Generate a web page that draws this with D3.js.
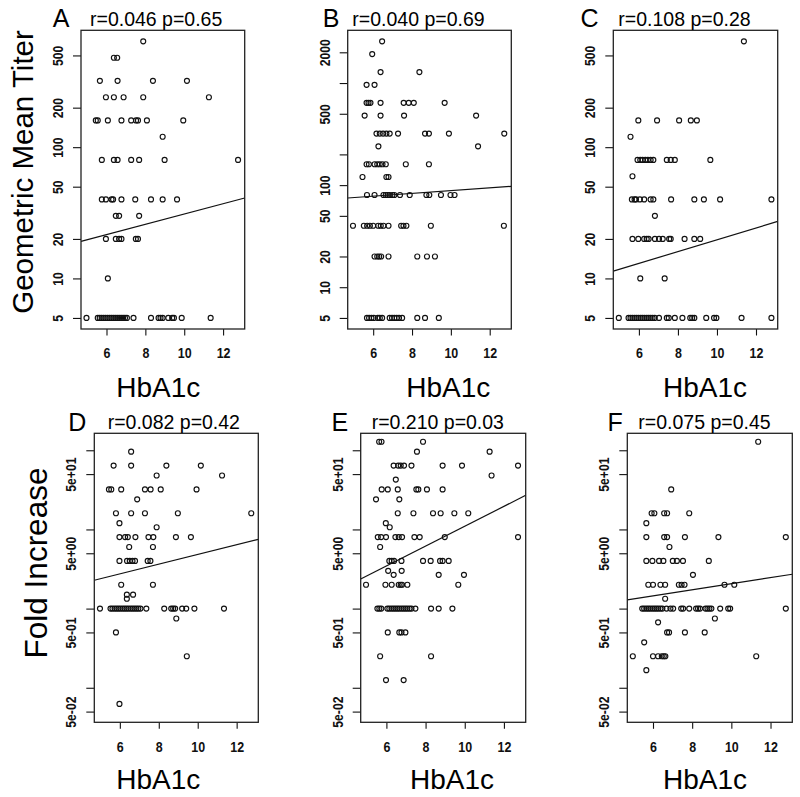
<!DOCTYPE html>
<html><head><meta charset="utf-8">
<script src="https://cdn.jsdelivr.net/npm/d3@7"></script>
<style>body{margin:0;background:#fff}svg{display:block}</style>
</head><body>
<script>
// ---------- DATA (HbA1c values grouped by y level) ----------
const xLim = [5.0, 12.8];
const xTicks = [6, 8, 10, 12];

const gmtTicksAC = [5, 10, 20, 50, 100, 200, 500];
const gmtLabelsAC = ["5", "10", "20", "50", "100", "200", "500"];
const gmtTicksB = [5, 10, 20, 50, 100, 200, 500, 1000, 2000];
const gmtLabelsB = ["5", "10", "20", "50", "100", "", "500", "", "2000"];
const foldTicks = [0.05, 0.1, 0.5, 1, 5, 10, 50, 100];
const foldLabels = ["5e-02", "", "5e-01", "", "5e+00", "", "5e+01", ""];

const yLimA = [5, 640], yLimB = [5, 2560], yLimC = [5, 640], yLimFold = [0.05, 120];

const gmtA = [
  [640, [7.89]],
  [480, [6.38, 6.55]],
  [320, [5.66, 6.57, 8.39, 10.14]],
  [240, [5.97, 6.38, 6.88, 7.89, 11.27]],
  [160, [5.45, 5.55, 6.07, 6.77, 7.27, 7.52, 7.62, 8.08, 9.95]],
  [120, [8.89]],
  [80, [5.76, 6.38, 6.57, 7.27, 7.68, 8.99, 12.77]],
  [40, [5.76, 5.97, 6.26, 6.34, 6.77, 7.48, 8.29, 8.89, 9.63]],
  [30, [6.48, 6.65, 7.68]],
  [20, [5.97, 6.48, 6.65, 6.77, 7.51, 7.62]],
  [10, [6.07]],
  [5, [4.97, 5.55, 5.65, 5.75, 5.85, 5.95, 6.05, 6.15, 6.25, 6.35, 6.45, 6.55, 6.65, 6.75, 6.85, 6.95, 7.05, 7.39, 8.29, 8.68, 8.78, 8.89, 9.18, 9.38, 9.47, 9.87, 11.36]]
];
const gmtB = [
  [2560, [6.46]],
  [1920, [5.95]],
  [1280, [6.38, 8.38]],
  [960, [5.66, 6.07]],
  [640, [5.66, 5.76, 5.86, 6.38, 7.57, 7.83, 8.09, 9.68]],
  [480, [5.56, 6.38, 7.59, 11.3]],
  [320, [6.17, 6.34, 6.51, 6.68, 6.85, 7.28, 8.67, 8.87, 9.9, 12.75]],
  [240, [6.27, 11.4]],
  [160, [5.66, 5.78, 6.07, 6.21, 6.34, 6.48, 6.65, 7.68, 8.87]],
  [120, [5.45, 6.68, 6.79]],
  [80, [5.68, 6.07, 6.53, 6.65, 6.75, 6.85, 6.99, 7.09, 7.38, 7.88, 8.74, 8.89, 9.49, 9.98, 10.19]],
  [40, [4.96, 5.52, 5.69, 5.83, 6.0, 6.26, 6.39, 6.53, 6.79, 7.44, 7.56, 7.71, 8.97, 12.73]],
  [20, [6.07, 6.21, 6.31, 6.41, 6.79, 8.27, 8.77, 9.18]],
  [5, [5.68, 5.79, 5.91, 6.03, 6.24, 6.34, 6.46, 6.85, 6.97, 7.09, 7.21, 7.33, 7.49, 8.27, 8.67, 9.38]]
];
const gmtC = [
  [640, [11.38]],
  [160, [5.97, 6.93, 8.06, 8.66, 8.97]],
  [120, [5.57]],
  [80, [5.93, 6.07, 6.19, 6.33, 6.46, 6.6, 6.74, 7.43, 7.63, 7.84, 9.66]],
  [60, [5.67]],
  [40, [5.64, 5.78, 5.85, 6.05, 6.27, 6.6, 6.74, 7.65, 8.84, 9.33, 10.16, 12.79]],
  [30, [6.82]],
  [20, [5.67, 5.97, 6.27, 6.4, 6.5, 6.82, 7.03, 7.22, 7.55, 7.63, 8.34, 8.84, 9.14]],
  [10, [6.07, 7.32]],
  [5, [4.97, 5.47, 5.57, 5.67, 5.78, 5.88, 5.98, 6.09, 6.19, 6.29, 6.4, 6.5, 6.6, 6.7, 6.81, 7.03, 7.43, 7.53, 7.84, 8.23, 8.63, 8.73, 8.84, 9.45, 9.85, 9.97, 11.26, 12.79]]
];
const foldD = [
  [96, [6.58]],
  [64, [5.68, 6.58, 8.39, 10.16]],
  [48, [7.89, 11.25]],
  [32, [5.44, 5.56, 6.07, 7.29, 7.58, 8.1, 9.94]],
  [24, [6.89]],
  [16, [5.8, 6.58, 7.29, 8.98, 12.75]],
  [12, [5.98]],
  [10.67, [7.89]],
  [8, [5.98, 6.27, 6.41, 6.8, 7.47, 7.72, 8.88, 9.65]],
  [6, [6.48, 7.7]],
  [4, [5.98, 6.37, 6.51, 6.65, 6.78, 7.43, 7.57]],
  [2, [6.07, 7.7]],
  [1.5, [6.36, 6.68]],
  [1.33, [6.36]],
  [1, [4.98, 5.52, 5.62, 5.73, 5.83, 5.93, 6.03, 6.14, 6.24, 6.34, 6.44, 6.55, 6.65, 6.75, 6.85, 6.95, 7.06, 7.36, 8.28, 8.64, 8.74, 8.84, 9.2, 9.41, 9.83, 11.35]],
  [0.75, [8.9]],
  [0.5, [5.8]],
  [0.25, [9.44]],
  [0.0625, [5.98]]
];
const foldE = [
  [128, [5.63, 5.75, 7.87]],
  [96, [7.56, 11.27]],
  [64, [6.37, 6.6, 6.73, 6.9, 7.28, 8.87, 9.86, 12.72]],
  [48, [11.37]],
  [42.67, [6.48]],
  [32, [5.76, 6.07, 6.58, 7.53, 7.63, 8.07, 8.87]],
  [24, [5.47, 6.66]],
  [16, [6.58, 7.38, 8.38, 8.77, 9.47, 10.18]],
  [12, [5.97]],
  [10.67, [6.17]],
  [8, [5.56, 5.73, 5.98, 6.46, 6.63, 6.8, 7.43, 7.7, 8.98, 12.72]],
  [6, [5.68]],
  [4, [6.15, 6.27, 6.39, 6.77, 7.87, 8.26, 8.74, 8.87, 9.18]],
  [3, [6.09, 6.78]],
  [2.67, [6.37, 8.67, 9.96]],
  [2, [4.96, 5.95, 6.27, 6.63, 6.73, 6.8, 7.07, 9.67]],
  [1, [5.54, 5.64, 5.74, 6.05, 6.15, 6.26, 6.36, 6.46, 6.56, 6.66, 6.77, 6.87, 6.97, 7.07, 7.18, 7.28, 7.48, 8.28, 8.67, 9.37]],
  [0.5, [6.07, 6.66, 6.77, 6.97]],
  [0.25, [5.68, 8.28]],
  [0.125, [5.98, 6.88]]
];
const foldF = [
  [128, [11.37]],
  [32, [6.93]],
  [16, [5.93, 6.07, 6.57, 6.72, 7.85]],
  [12, [5.66]],
  [8, [5.66, 6.57, 6.72, 7.63, 9.34, 12.78]],
  [6, [6.84]],
  [4, [5.66, 5.97, 6.31, 6.53, 7.01, 7.22, 7.53, 8.85]],
  [2.67, [8.04]],
  [2, [5.76, 6.0, 6.38, 6.62, 7.32, 7.46, 7.61, 9.65, 10.15]],
  [1.33, [6.62]],
  [1, [5.45, 5.55, 5.66, 5.76, 5.86, 5.97, 6.07, 6.17, 6.27, 6.38, 6.48, 6.69, 6.89, 7.03, 7.44, 7.54, 7.85, 8.2, 8.3, 8.4, 8.68, 8.78, 8.88, 8.98, 9.43, 9.84, 9.94, 12.78]],
  [0.75, [9.16]],
  [0.67, [6.26]],
  [0.5, [6.72, 6.82, 7.63, 8.64]],
  [0.375, [5.55]],
  [0.25, [4.97, 6.0, 6.26, 6.45, 6.55, 6.63, 11.27]],
  [0.167, [5.66]]
];

// fitted lines: log10(y) = intercept + slope * HbA1c
const fitA = [1.099, 0.0392];
const fitB = [1.8105, 0.01354];
const fitC = [0.8442, 0.04503];
const fitD = [0.070, 0.0614];
const fitE = [-0.2135, 0.1254];
const fitF = [-0.0709, 0.0385];

const statA = "r=0.046 p=0.65", statB = "r=0.040 p=0.69", statC = "r=0.108 p=0.28";
const statD = "r=0.082 p=0.42", statE = "r=0.210 p=0.03", statF = "r=0.075 p=0.45";
const xTitle = "HbA1c";
const yTitleTop = "Geometric Mean Titer";
const yTitleBottom = "Fold Increase";

// ---------- DRAWING ----------
const FONT = "'Liberation Sans', Arial, Helvetica, sans-serif";
const svg = d3.select("body").append("svg").attr("width", 800).attr("height", 797);

function padLin(l) { const d = (l[1] - l[0]) * 0.04; return [l[0] - d, l[1] + d]; }
function padLog(l) {
  const a = Math.log10(l[0]), b = Math.log10(l[1]), d = (b - a) * 0.04;
  return [Math.pow(10, a - d), Math.pow(10, b + d)];
}

const panels = [
  {letter: "A", data: gmtA, fit: fitA, stat: statA, ylim: yLimA, ticks: gmtTicksAC, labels: gmtLabelsAC,
   box: [81, 244.7, 30.3, 329], letterPos: [52.7, 26.7], statPos: [90, 26], xlabPos: [158.3, 396.7]},
  {letter: "B", data: gmtB, fit: fitB, stat: statB, ylim: yLimB, ticks: gmtTicksB, labels: gmtLabelsB,
   box: [347.7, 511.3, 30.3, 329], letterPos: [322.7, 26.7], statPos: [352.3, 26], xlabPos: [448.3, 396.7]},
  {letter: "C", data: gmtC, fit: fitC, stat: statC, ylim: yLimC, ticks: gmtTicksAC, labels: gmtLabelsAC,
   box: [613.3, 777.7, 30.3, 329], letterPos: [580.5, 26.7], statPos: [618.3, 26], xlabPos: [705, 396.7]},
  {letter: "D", data: foldD, fit: fitD, stat: statD, ylim: yLimFold, ticks: foldTicks, labels: foldLabels,
   box: [94.3, 258.3, 433.3, 722.3], letterPos: [68.3, 431], statPos: [107.7, 429.3], xlabPos: [158.3, 789.3]},
  {letter: "E", data: foldE, fit: fitE, stat: statE, ylim: yLimFold, ticks: foldTicks, labels: foldLabels,
   box: [360.7, 525.7, 433.3, 722.3], letterPos: [331.5, 431], statPos: [371.7, 429.3], xlabPos: [452, 789.3]},
  {letter: "F", data: foldF, fit: fitF, stat: statF, ylim: yLimFold, ticks: foldTicks, labels: foldLabels,
   box: [627.3, 792.3, 433.3, 722.3], letterPos: [607.5, 431], statPos: [638.3, 429.3], xlabPos: [705, 789.3]}
];

panels.forEach(p => {
  const [l, r, t, b] = p.box;
  const x = d3.scaleLinear().domain(padLin(xLim)).range([l, r]);
  const y = d3.scaleLog().domain(padLog(p.ylim)).range([b, t]);
  const g = svg.append("g");

  // x axis
  const xa = g.append("g").attr("transform", `translate(0,${b})`)
    .call(d3.axisBottom(x).tickValues(xTicks).tickFormat(d3.format("d")).tickSize(6.5).tickSizeOuter(0));
  xa.select(".domain").remove();
  xa.selectAll("line").attr("stroke", "#111").attr("stroke-width", 1.1);
  xa.selectAll("text").attr("y", 29.5).attr("dy", null)
    .attr("transform", "scale(0.86,1)")
    .attr("font-family", FONT).attr("font-size", 14.5).attr("font-weight", "bold").attr("fill", "#111");

  // y axis
  const ya = g.append("g").attr("transform", `translate(${l},0)`)
    .call(d3.axisLeft(y).tickValues(p.ticks).tickFormat((d, i) => p.labels[i]).tickSize(8).tickSizeOuter(0));
  ya.select(".domain").remove();
  ya.selectAll("line").attr("stroke", "#111").attr("stroke-width", 1.1);
  ya.selectAll("text").attr("x", null).attr("dy", null)
    .attr("transform", "translate(-18,0) rotate(-90) scale(0.84,1)")
    .attr("text-anchor", "middle")
    .attr("font-family", FONT).attr("font-size", 14.5).attr("font-weight", "bold").attr("fill", "#111");

  // points
  const pts = [];
  p.data.forEach(([yv, xs]) => xs.forEach(xv => pts.push([xv, yv])));
  g.append("g").selectAll("circle").data(pts).join("circle")
    .attr("cx", d => x(d[0])).attr("cy", d => y(d[1])).attr("r", 2.5)
    .attr("fill", "none").attr("stroke", "#111").attr("stroke-width", 1.15);

  // regression line across plot region
  const [x0, x1] = x.domain();
  const f = xv => Math.pow(10, p.fit[0] + p.fit[1] * xv);
  g.append("line")
    .attr("x1", x(x0)).attr("y1", y(f(x0))).attr("x2", x(x1)).attr("y2", y(f(x1)))
    .attr("stroke", "#111").attr("stroke-width", 1.2);

  // box
  g.append("rect").attr("x", l).attr("y", t).attr("width", r - l).attr("height", b - t)
    .attr("fill", "none").attr("stroke", "#222").attr("stroke-width", 1.3);

  // panel letter & stats
  g.append("text").attr("x", p.letterPos[0]).attr("y", p.letterPos[1]).text(p.letter)
    .attr("font-family", FONT).attr("font-size", 25).attr("fill", "#000");
  g.append("text").attr("x", p.statPos[0]).attr("y", p.statPos[1]).text(p.stat)
    .attr("font-family", FONT).attr("font-size", 19.5).attr("fill", "#000");

  // x title
  g.append("text").attr("x", p.xlabPos[0]).attr("y", p.xlabPos[1]).text(xTitle)
    .attr("text-anchor", "middle").attr("font-family", FONT).attr("font-size", 28).attr("fill", "#000");
});

// y titles
svg.append("text").attr("transform", "translate(33,172) rotate(-90)").text(yTitleTop)
  .attr("text-anchor", "middle").attr("font-family", FONT).attr("font-size", 29.5).attr("fill", "#000");
svg.append("text").attr("transform", "translate(47,563) rotate(-90)").text(yTitleBottom)
  .attr("text-anchor", "middle").attr("font-family", FONT).attr("font-size", 31.5).attr("fill", "#000");
</script>
</body></html>
